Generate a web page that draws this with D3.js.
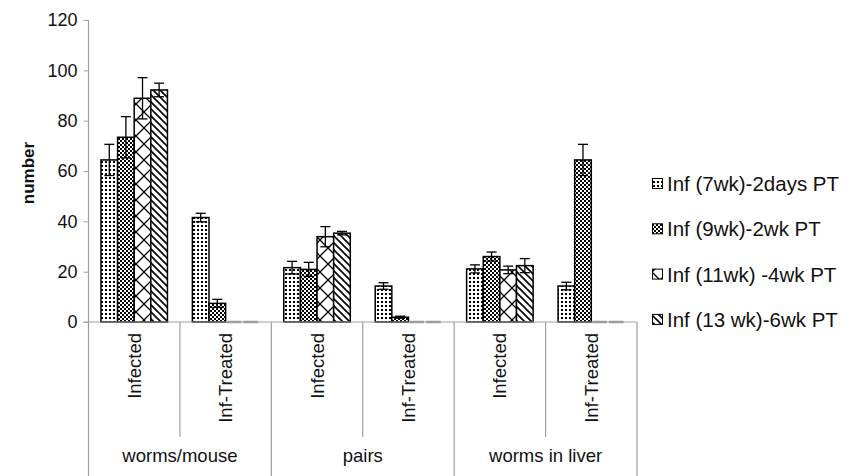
<!DOCTYPE html>
<html>
<head>
<meta charset="utf-8">
<script src="https://cdnjs.cloudflare.com/ajax/libs/d3/7.8.5/d3.min.js"></script>
<style>
  html, body { margin: 0; padding: 0; background: #fff; }
  svg { display: block; font-family: "Liberation Sans", Arial, sans-serif; }
</style>
</head>
<body>
<svg id="chart" width="854" height="476"></svg>
<script>
// Measures and treatment groups
const groups = ["worms/mouse", "pairs", "worms in liver"];
const subgroups = ["Infected", "Inf-Treated"];
const seriesNames = [
  "Inf (7wk)-2days PT",
  "Inf (9wk)-2wk PT",
  "Inf (11wk) -4wk PT",
  "Inf (13 wk)-6wk PT"
];
// Means per category (groups x subgroups, in order)
const s7wk  = [64.4, 41.5, 21.6, 14.3, 21.1, 14.3];
const s9wk  = [73.4,  7.4, 20.9,  1.9, 26.0, 64.4];
const s11wk = [88.9,  0,   33.9,  0,   20.7,  0];
const s13wk = [92.2,  0,   35.3,  0,   22.4,  0];
// Standard errors
const e7wk  = [6.2, 1.7, 2.5, 1.3, 1.6, 1.5];
const e9wk  = [8.2, 1.6, 2.8, 0.4, 1.8, 6.2];
const e11wk = [8.2, 0,   4.0, 0,   1.5, 0];
const e13wk = [2.7, 0,   0.7, 0,   2.8, 0];
const yTicks = [0, 20, 40, 60, 80, 100, 120];

const values = [s7wk, s9wk, s11wk, s13wk];
const errors = [e7wk, e9wk, e11wk, e13wk];

const categories = [];
groups.forEach((g, gi) => subgroups.forEach((s, si) => categories.push({ group: g, sub: s, key: gi + "|" + si })));

const svg = d3.select("#chart");
const plotLeft = 88.5, plotRight = 637, plotTop = 20, plotBottom = 322;
const axisGray = "#a0a0a0";

// Fill patterns for the four series
const defs = svg.append("defs");
function pat(id, w, h) {
  const p = defs.append("pattern").attr("id", id).attr("patternUnits", "userSpaceOnUse")
    .attr("width", w).attr("height", h);
  p.append("rect").attr("width", w).attr("height", h).attr("fill", "#fff");
  return p;
}
const p1 = pat("p1", 4, 4);
p1.append("rect").attr("x", 1).attr("y", 1).attr("width", 2).attr("height", 2).attr("fill", "#000");
const p2 = pat("p2", 4, 4);
p2.append("rect").attr("x", 0).attr("y", 0).attr("width", 2).attr("height", 2).attr("fill", "#000");
p2.append("rect").attr("x", 2).attr("y", 2).attr("width", 2).attr("height", 2).attr("fill", "#000");
const p3 = pat("p3", 16, 16);
p3.append("path").attr("d", "M0,0 L8,8 L0,16 M16,0 L8,8 L16,16").attr("stroke", "#000").attr("stroke-width", 1.3).attr("fill", "none");
const p4 = pat("p4", 7, 7);
p4.append("path").attr("d", "M-1,-1 L8,8 M-1,6 L1,8 M6,-1 L8,1").attr("stroke", "#000").attr("stroke-width", 1.6).attr("fill", "none");
const fills = ["url(#p1)", "url(#p2)", "url(#p3)", "url(#p4)"];

// Scales
const y = d3.scaleLinear().domain([0, 120]).range([plotBottom, plotTop]);
const x0 = d3.scaleBand().domain(categories.map(c => c.key)).range([plotLeft, plotRight]).padding(0);
const x1 = d3.scaleBand().domain(d3.range(seriesNames.length)).range([0, x0.bandwidth()])
  .paddingInner(0).paddingOuter(0.75);

// Y axis
const yAxis = svg.append("g").attr("transform", `translate(${plotLeft},0)`)
  .call(d3.axisLeft(y).tickValues(yTicks).tickSize(5).tickPadding(6));
yAxis.select(".domain").remove();
yAxis.selectAll(".tick line").attr("stroke", axisGray);
yAxis.selectAll(".tick text").attr("font-size", 18).attr("fill", "#111")
  .attr("font-family", "'Liberation Sans', Arial, sans-serif");
svg.append("line").attr("x1", plotLeft).attr("x2", plotLeft).attr("y1", plotTop).attr("y2", 476)
  .attr("stroke", axisGray).attr("stroke-width", 1.2);

// Axis title
svg.append("text")
  .attr("transform", `translate(34,${(plotTop + plotBottom) / 2 + 2}) rotate(-90)`)
  .attr("text-anchor", "middle")
  .attr("font-size", 17).attr("font-weight", "bold").attr("fill", "#111")
  .text("number");

// Bars
const barData = [];
values.forEach((vals, si) => vals.forEach((v, ci) => barData.push({ si, ci, v, e: errors[si][ci] })));

const bars = svg.append("g");
bars.selectAll("rect").data(barData.filter(d => d.v > 0)).join("rect")
  .attr("x", d => x0(categories[d.ci].key) + x1(d.si))
  .attr("y", d => y(d.v))
  .attr("width", x1.bandwidth())
  .attr("height", d => y(0) - y(d.v))
  .attr("fill", d => fills[d.si])
  .attr("stroke", "#000").attr("stroke-width", 1.5);

// Baseline
svg.append("line").attr("x1", plotLeft - 5).attr("x2", plotRight).attr("y1", plotBottom).attr("y2", plotBottom)
  .attr("stroke", axisGray).attr("stroke-width", 1.2);

// Zero-height bars show as short marks on the baseline
bars.selectAll("line.zero").data(barData.filter(d => d.v === 0)).join("line")
  .attr("class", "zero")
  .attr("x1", d => x0(categories[d.ci].key) + x1(d.si) + 1)
  .attr("x2", d => x0(categories[d.ci].key) + x1(d.si) + x1.bandwidth() - 1)
  .attr("y1", y(0)).attr("y2", y(0))
  .attr("stroke", "#9a9a9a").attr("stroke-width", 2.5);

// Error bars
const eb = svg.append("g").attr("stroke", "#000").attr("stroke-width", 1.3);
barData.filter(d => d.e > 0).forEach(d => {
  const cx = x0(categories[d.ci].key) + x1(d.si) + x1.bandwidth() / 2;
  const hi = y(d.v + d.e), lo = y(d.v - d.e);
  eb.append("line").attr("x1", cx).attr("x2", cx).attr("y1", hi).attr("y2", lo);
  eb.append("line").attr("x1", cx - 5).attr("x2", cx + 5).attr("y1", hi).attr("y2", hi);
  eb.append("line").attr("x1", cx - 5).attr("x2", cx + 5).attr("y1", lo).attr("y2", lo);
});

// Multi-level category axis
const cat = svg.append("g").attr("stroke-width", 1.2);
categories.forEach((c, i) => {
  const x = x0(c.key);
  const isGroupEdge = i % subgroups.length === 0;
  if (i > 0) {
    cat.append("line").attr("x1", x).attr("x2", x)
      .attr("y1", plotBottom).attr("y2", isGroupEdge ? 476 : 437)
      .attr("stroke", axisGray);
  }
  cat.append("text")
    .attr("transform", `translate(${x + x0.bandwidth() / 2},333) rotate(-90)`)
    .attr("text-anchor", "end").attr("dy", "0.35em")
    .attr("font-size", 18.5).attr("fill", "#111")
    .text(c.sub);
});
cat.append("line").attr("x1", plotRight).attr("x2", plotRight).attr("y1", plotBottom).attr("y2", 476)
  .attr("stroke", axisGray);
groups.forEach((g, gi) => {
  const xs = x0(categories[gi * subgroups.length].key);
  const xe = x0(categories[gi * subgroups.length + subgroups.length - 1].key) + x0.bandwidth();
  cat.append("text").attr("x", (xs + xe) / 2).attr("y", 462)
    .attr("text-anchor", "middle").attr("font-size", 18.5).attr("fill", "#111")
    .text(g);
});

// Legend
const legend = svg.append("g").attr("transform", "translate(652,0)");
seriesNames.forEach((name, i) => {
  const cy = 184 + i * 45.3;
  legend.append("rect").attr("x", 0.5).attr("y", cy - 5.5).attr("width", 10).attr("height", 10)
    .attr("fill", fills[i]).attr("stroke", "#000").attr("stroke-width", 1);
  legend.append("text").attr("x", 15).attr("y", cy).attr("dy", "0.35em")
    .attr("font-size", 20.5).attr("fill", "#111").text(name);
});
</script>
</body>
</html>
